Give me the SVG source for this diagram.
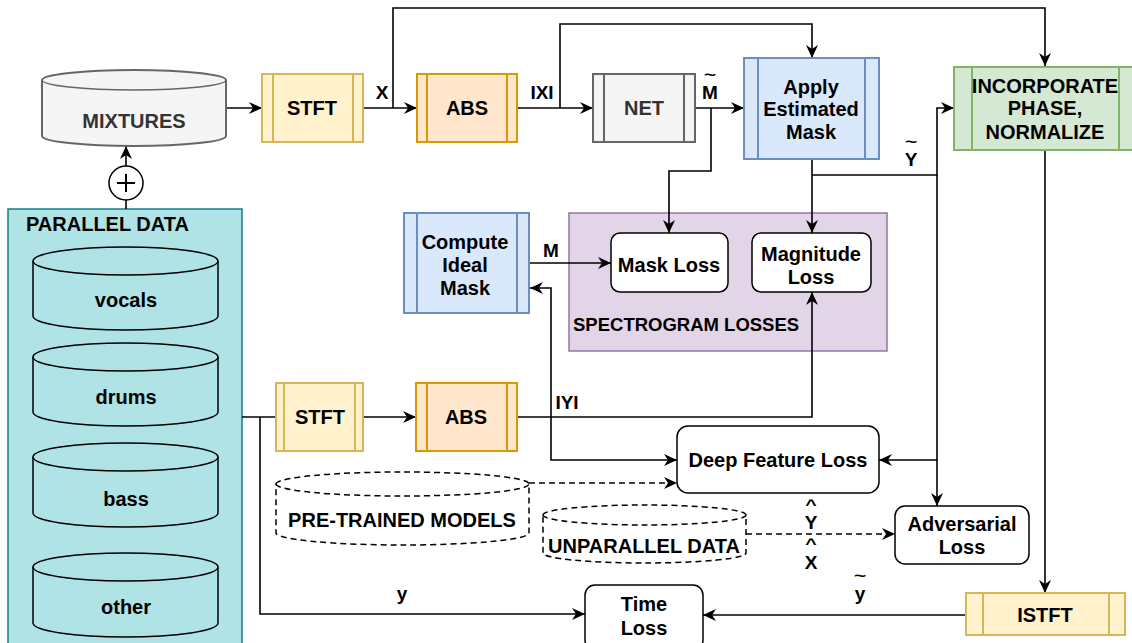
<svg xmlns="http://www.w3.org/2000/svg" width="1132" height="643" viewBox="0 0 1132 643">
<defs>
<marker id="ah" markerUnits="userSpaceOnUse" markerWidth="14" markerHeight="12" refX="13" refY="6" orient="auto">
<path d="M0,0 L13,6 L0,12 L4,6 Z" fill="#000"/>
</marker>
<style>
text{font-family:"Liberation Sans",Arial,sans-serif;font-weight:bold;font-size:20px;fill:#000}
.c{text-anchor:middle}
.g{fill:#333}
.s18{font-size:18.5px}
.lb{font-size:19px}
.acc{font-size:14px}
.yel{fill:#fff2cc;stroke:#d6b656;stroke-width:2}
.org{fill:#ffe6cc;stroke:#d79b00;stroke-width:2}
.gry{fill:#f5f5f5;stroke:#666;stroke-width:2}
.blu{fill:#dae8fc;stroke:#6c8ebf;stroke-width:2}
.grn{fill:#d5e8d4;stroke:#82b366;stroke-width:2}
.loss{fill:#fff;stroke:#000;stroke-width:1.5}
.cyl{fill:#b0e3e6;stroke:#000;stroke-width:1.5}
.dcyl{fill:#fff;stroke:#000;stroke-width:1.5;stroke-dasharray:6 4}
.edge{fill:none;stroke:#000;stroke-width:1.6}
.dash{stroke-dasharray:6 4}
</style>
</defs>
<rect width="1132" height="643" fill="#fff"/>

<g id="parallel-data">
<rect x="8" y="209" width="234" height="450" fill="#b0e3e6" stroke="#0e8088" stroke-width="1.5"/>
<text x="26" y="231">PARALLEL DATA</text>
</g>
<g id="spectrogram-losses">
<rect x="569" y="213" width="318" height="138" fill="#e1d5e7" stroke="#9673a6" stroke-width="1.5"/>
<text x="573" y="331" class="s18">SPECTROGRAM LOSSES</text>
</g>

<g id="connectors">
<path class="edge" d="M226,108 H262" stroke-width="2.2" marker-end="url(#ah)"/>
<path class="edge" d="M363,108 H417" marker-end="url(#ah)"/>
<path class="edge" d="M393,108 V8 H1045 V66" marker-end="url(#ah)"/>
<path class="edge" d="M517,108 H593" marker-end="url(#ah)"/>
<path class="edge" d="M560,108 V24 H812 V58" marker-end="url(#ah)"/>
<path class="edge" d="M695,108 H744" marker-end="url(#ah)"/>
<path class="edge" d="M711,108 V171 H669 V233" marker-end="url(#ah)"/>
<path class="edge" d="M812,159 V233" marker-end="url(#ah)"/>
<path class="edge" d="M812,175 H937 V108 H954" stroke-width="2" marker-end="url(#ah)"/>
<path class="edge" d="M937,175 V460 H879" marker-end="url(#ah)"/>
<path class="edge" d="M937,460 V506" marker-end="url(#ah)"/>
<path class="edge" d="M1045,150 V593" marker-end="url(#ah)"/>
<path class="edge" d="M966,615 H703" marker-end="url(#ah)"/>
<path class="edge" d="M242,417 H276"/>
<path class="edge" d="M260,417 V614 H585" marker-end="url(#ah)"/>
<path class="edge" d="M363,417 H416" marker-end="url(#ah)"/>
<path class="edge" d="M517,417 H812 V292" marker-end="url(#ah)"/>
<path class="edge" d="M551,417 V288 H530" marker-end="url(#ah)"/>
<path class="edge" d="M551,417 V460 H677" marker-end="url(#ah)"/>
<path class="edge" d="M529,263 H611" marker-end="url(#ah)"/>
<path class="edge dash" d="M529,483 H677" marker-end="url(#ah)"/>
<path class="edge dash" d="M746,534 H895" marker-end="url(#ah)"/>
<path class="edge" d="M126,209 V200"/>
<path class="edge" d="M126,166 V146" marker-end="url(#ah)"/>
<text x="382" y="99" class="c lb">X</text>
<text x="542" y="99" class="c lb">IXI</text>
<text transform="translate(710,80) scale(1.5,1)" class="c acc">~</text>
<text x="710" y="99" class="c lb">M</text>
<text transform="translate(911,147) scale(1.5,1)" class="c acc">~</text>
<text x="911" y="166" class="c lb">Y</text>
<text x="551" y="257" class="c lb">M</text>
<text x="567" y="409" class="c lb">IYI</text>
<text transform="translate(811,510) scale(1.4,1)" class="c acc">^</text>
<text x="811" y="529" class="c lb">Y</text>
<text transform="translate(811,549) scale(1.4,1)" class="c acc">^</text>
<text x="811" y="569" class="c lb">X</text>
<text transform="translate(860,581) scale(1.5,1)" class="c acc">~</text>
<text x="860" y="600" class="c lb">y</text>
<text x="402" y="600" class="c lb">y</text>
</g>

<g id="mixtures">
<path d="M42,80 A92,10 0 0 1 226,80 V136 A92,10 0 0 1 42,136 Z" class="gry" stroke-width="1.5"/>
<path d="M42,80 A92,10 0 0 0 226,80" fill="none" stroke="#666" stroke-width="1.5"/>
<text x="134" y="128" class="c g">MIXTURES</text>
</g>
<g id="plus">
<circle cx="126" cy="183" r="17" fill="#fff" stroke="#000" stroke-width="1.5"/>
<path d="M126,174 V192 M117,183 H135" stroke="#000" stroke-width="2"/>
</g>
<g id="stft1">
<rect x="262" y="74" width="101" height="68" class="yel"/>
<path d="M273,74 V142 M353,74 V142" class="yel"/>
<text x="312" y="115" class="c">STFT</text>
</g>
<g id="abs1">
<rect x="417" y="74" width="100" height="68" class="org"/>
<path d="M427,74 V142 M507,74 V142" class="org"/>
<text x="467" y="115" class="c">ABS</text>
</g>
<g id="net">
<rect x="593" y="74" width="102" height="68" class="gry"/>
<path d="M604,74 V142 M684,74 V142" class="gry"/>
<text x="644" y="115" class="c g">NET</text>
</g>
<g id="apply-mask">
<rect x="744" y="58" width="135" height="101" class="blu"/>
<path d="M758,58 V159 M865,58 V159" class="blu"/>
<text x="811" y="94" class="c">Apply</text>
<text x="811" y="116" class="c">Estimated</text>
<text x="811" y="139" class="c">Mask</text>
</g>
<g id="incorporate">
<rect x="954" y="67" width="185" height="83" class="grn"/>
<path d="M972,67 V150 M1119,67 V150" class="grn"/>
<text x="1045" y="93" class="c">INCORPORATE</text>
<text x="1045" y="115" class="c">PHASE,</text>
<text x="1045" y="139" class="c">NORMALIZE</text>
</g>
<g id="compute-mask">
<rect x="404" y="213" width="125" height="100" class="blu"/>
<path d="M417,213 V313 M517,213 V313" class="blu"/>
<text x="465" y="249" class="c">Compute</text>
<text x="465" y="272" class="c">Ideal</text>
<text x="465" y="295" class="c">Mask</text>
</g>
<g id="mask-loss">
<rect x="611" y="233" width="117" height="59" rx="9" class="loss"/>
<text x="669" y="272" class="c">Mask Loss</text>
</g>
<g id="magnitude-loss">
<rect x="752" y="233" width="119" height="59" rx="9" class="loss"/>
<text x="811" y="261" class="c">Magnitude</text>
<text x="811" y="284" class="c">Loss</text>
</g>
<g id="vocals">
<path d="M33,261 A92.5,14 0 0 1 218,261 V316 A92.5,14 0 0 1 33,316 Z" class="cyl"/>
<path d="M33,261 A92.5,14 0 0 0 218,261" fill="none" stroke="#000" stroke-width="1.5"/>
<text x="126" y="307" class="c">vocals</text>
</g>
<g id="drums">
<path d="M33,357 A92.5,14 0 0 1 218,357 V412 A92.5,14 0 0 1 33,412 Z" class="cyl"/>
<path d="M33,357 A92.5,14 0 0 0 218,357" fill="none" stroke="#000" stroke-width="1.5"/>
<text x="126" y="404" class="c">drums</text>
</g>
<g id="bass">
<path d="M33,457 A92.5,14 0 0 1 218,457 V513 A92.5,14 0 0 1 33,513 Z" class="cyl"/>
<path d="M33,457 A92.5,14 0 0 0 218,457" fill="none" stroke="#000" stroke-width="1.5"/>
<text x="126" y="506" class="c">bass</text>
</g>
<g id="other">
<path d="M33,567 A92.5,14 0 0 1 218,567 V623 A92.5,14 0 0 1 33,623 Z" class="cyl"/>
<path d="M33,567 A92.5,14 0 0 0 218,567" fill="none" stroke="#000" stroke-width="1.5"/>
<text x="126" y="614" class="c">other</text>
</g>
<g id="stft2">
<rect x="276" y="383" width="87" height="68" class="yel"/>
<path d="M284,383 V451 M355,383 V451" class="yel"/>
<text x="320" y="424" class="c">STFT</text>
</g>
<g id="abs2">
<rect x="416" y="383" width="101" height="68" class="org"/>
<path d="M427,383 V451 M507,383 V451" class="org"/>
<text x="466" y="424" class="c">ABS</text>
</g>
<g id="deep-feature-loss">
<rect x="677" y="426" width="202" height="67" rx="11" class="loss"/>
<text x="778" y="467" class="c">Deep Feature Loss</text>
</g>
<g id="pretrained-models">
<path d="M276,484 A126.5,12 0 0 1 529,484 V533 A126.5,12 0 0 1 276,533 Z" class="dcyl"/>
<path d="M276,484 A126.5,12 0 0 0 529,484" fill="none" stroke="#000" stroke-width="1.5" stroke-dasharray="6 4"/>
<text x="402" y="527" class="c">PRE-TRAINED MODELS</text>
</g>
<g id="unparallel-data">
<path d="M543,515 A101.5,10 0 0 1 746,515 V553 A101.5,10 0 0 1 543,553 Z" class="dcyl"/>
<path d="M543,515 A101.5,10 0 0 0 746,515" fill="none" stroke="#000" stroke-width="1.5" stroke-dasharray="6 4"/>
<text x="644" y="553" class="c">UNPARALLEL DATA</text>
</g>
<g id="adversarial-loss">
<rect x="895" y="506" width="134" height="58" rx="10" class="loss"/>
<text x="962" y="531" class="c">Adversarial</text>
<text x="962" y="554" class="c">Loss</text>
</g>
<g id="istft">
<rect x="966" y="593" width="159" height="42" class="yel"/>
<path d="M983,593 V635 M1109,593 V635" class="yel"/>
<text x="1045" y="622" class="c">ISTFT</text>
</g>
<g id="time-loss">
<rect x="585" y="585" width="118" height="65" rx="10" class="loss"/>
<text x="644" y="611" class="c">Time</text>
<text x="644" y="635" class="c">Loss</text>
</g>
</svg>
